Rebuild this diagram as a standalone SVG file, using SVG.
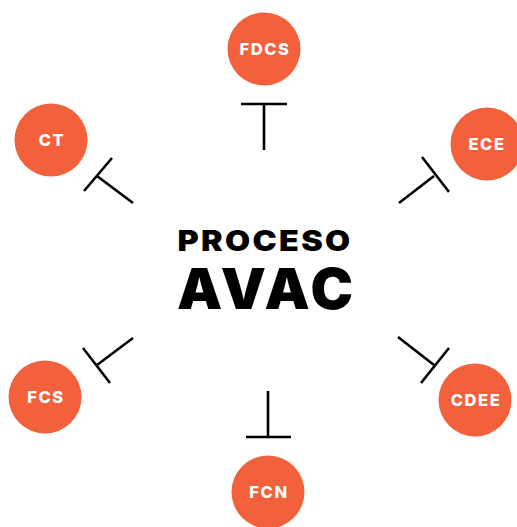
<svg xmlns="http://www.w3.org/2000/svg" width="517" height="527" viewBox="0 0 517 527">
  <style>
    .node circle { fill: #F2613C; }
    .node text { fill: #ffffff; font-family: Inter, "DejaVu Sans", sans-serif; font-weight: 800; font-size: 16.5px; letter-spacing: 1.6px; text-anchor: middle; }
    .links line { stroke: #000000; stroke-width: 2.6; stroke-linecap: butt; }
    .title { fill: #000000; font-family: Inter, "DejaVu Sans", sans-serif; font-weight: 900; text-anchor: middle; }
  </style>
  <rect width="517" height="527" fill="#ffffff"/>

  <!-- central title -->
  <g id="center">
    <text class="title" x="265" y="251" font-size="28" letter-spacing="2" textLength="175" lengthAdjust="spacingAndGlyphs">PROCESO</text>
    <text class="title" x="265" y="309" font-size="57" textLength="176" lengthAdjust="spacing">AVAC</text>
  </g>

  <!-- T-bar connectors from the centre toward each node -->
  <g class="links" id="connectors">
    <line x1="264" y1="150" x2="264" y2="104"/>
    <line x1="241" y1="104" x2="287" y2="104"/>

    <line x1="133" y1="203" x2="97" y2="176"/>
    <line x1="84" y1="191" x2="112" y2="158"/>

    <line x1="399" y1="203" x2="434" y2="176"/>
    <line x1="422" y1="157" x2="449" y2="192"/>

    <line x1="133" y1="338" x2="97" y2="365"/>
    <line x1="83" y1="348" x2="110" y2="383"/>

    <line x1="398" y1="337" x2="434" y2="365"/>
    <line x1="421" y1="383" x2="449" y2="348"/>

    <line x1="268" y1="391" x2="268" y2="437"/>
    <line x1="246" y1="437" x2="291" y2="437"/>
  </g>

  <g class="node" id="fdcs">
    <circle cx="264" cy="49" r="36.5"/>
    <text x="265" y="55">FDCS</text>
  </g>
  <g class="node" id="ct">
    <circle cx="51" cy="140" r="36.5"/>
    <text x="52" y="146">CT</text>
  </g>
  <g class="node" id="ece">
    <circle cx="487" cy="144" r="36.5"/>
    <text x="487" y="150">ECE</text>
  </g>
  <g class="node" id="fcs">
    <circle cx="45" cy="397" r="36.5"/>
    <text x="46" y="403">FCS</text>
  </g>
  <g class="node" id="cdee">
    <circle cx="475" cy="400" r="36.5"/>
    <text x="476" y="406">CDEE</text>
  </g>
  <g class="node" id="fcn">
    <circle cx="268" cy="492" r="36.5"/>
    <text x="269" y="498">FCN</text>
  </g>
</svg>
